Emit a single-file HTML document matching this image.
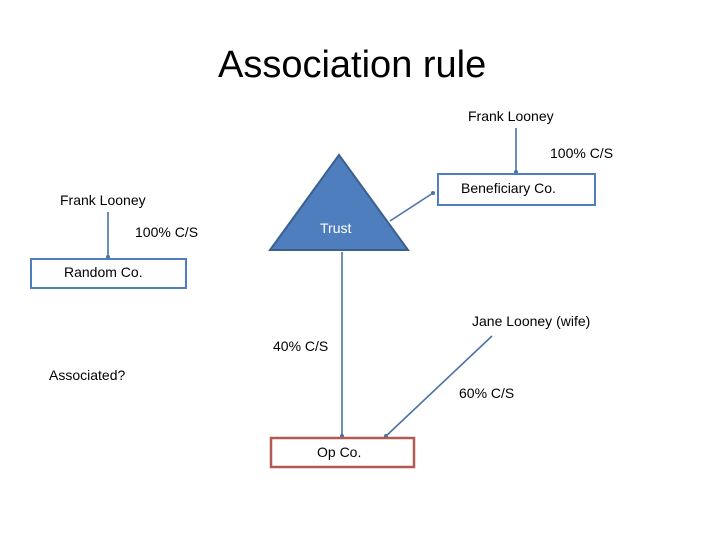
<!DOCTYPE html>
<html><head><style>
body{margin:0;width:720px;height:540px;background:#fff;position:relative;overflow:hidden;font-family:"Liberation Sans",sans-serif}
.t{position:absolute;font-size:14px;color:#000;white-space:nowrap}
</style></head><body>
<svg width="720" height="540" style="position:absolute;left:0;top:0">
<g stroke="#4a72a8" stroke-width="1.6" fill="none">
<line x1="516" y1="128" x2="516" y2="174"/>
<line x1="108" y1="212" x2="108" y2="259"/>
<line x1="390" y1="221" x2="433" y2="193"/>
<line x1="342" y1="252" x2="342" y2="437"/>
<line x1="492" y1="336" x2="385" y2="437"/>
</g>
<g fill="#4a72a8">
<circle cx="516" cy="172" r="2"/><circle cx="108" cy="257" r="2"/><circle cx="433" cy="193" r="2"/>
<circle cx="342" cy="436" r="2"/><circle cx="386" cy="436" r="2"/>
</g>
<polygon points="339,155 270,250 408,250" fill="#4f7ebf" stroke="#3b5f8f" stroke-width="2"/>
<rect x="438" y="174" width="157" height="31" fill="#fff" stroke="#4f7ebf" stroke-width="2"/>
<rect x="31" y="259" width="155" height="29" fill="#fff" stroke="#4f7ebf" stroke-width="2"/>
<rect x="271" y="438" width="143" height="29" fill="#fff" stroke="#b35a55" stroke-width="2.5"/>
</svg>
<div class="t" style="left:218px;top:44px;font-size:38px">Association rule</div>
<div class="t" style="left:468px;top:108px">Frank Looney</div>
<div class="t" style="left:550px;top:145px">100% C/S</div>
<div class="t" style="left:461px;top:180px">Beneficiary Co.</div>
<div class="t" style="left:60px;top:192px">Frank Looney</div>
<div class="t" style="left:135px;top:224px">100% C/S</div>
<div class="t" style="left:320px;top:220px;color:#fff">Trust</div>
<div class="t" style="left:64px;top:264px">Random Co.</div>
<div class="t" style="left:472px;top:313px">Jane Looney (wife)</div>
<div class="t" style="left:273px;top:338px">40% C/S</div>
<div class="t" style="left:49px;top:367px">Associated?</div>
<div class="t" style="left:459px;top:385px">60% C/S</div>
<div class="t" style="left:317px;top:444px">Op Co.</div>
</body></html>
